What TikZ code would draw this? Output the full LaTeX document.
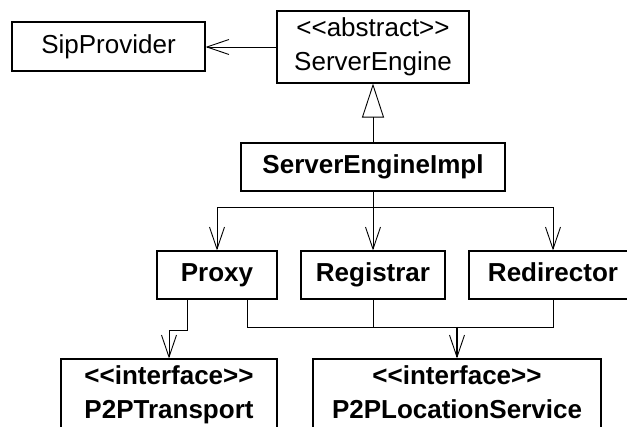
\documentclass[tikz,border=0pt]{standalone}
\usepackage{fontspec}
\setmainfont{Liberation Sans}[Ligatures=TeXOff]
\usetikzlibrary{arrows.meta}
\newcommand{\lstrut}{\vphantom{Pg}}
\tikzset{
  cls/.style={draw, line width=1.1pt, inner sep=0pt, align=center,
    font=\fontsize{26}{34}\selectfont},
  bcls/.style={cls, font=\fontsize{26}{34}\selectfont\bfseries},
  assoc/.style={line width=0.9pt, -{Straight Barb[length=22pt,width=15pt,line width=0.9pt]}},
  link/.style={line width=0.9pt},
  inherit/.style={line width=0.9pt, -{Triangle[open,length=34pt,width=22pt,line width=0.9pt]}}
}
\begin{document}
\begin{tikzpicture}[x=1pt,y=1pt]
\useasboundingbox (0,0) rectangle (627,-427);
\clip (0,0) rectangle (627,-427);

% classes
\node[cls, minimum width=193pt, minimum height=49pt] (sip) at (108.5,-46.5) {SipProvider\lstrut};
\node[cls, minimum width=192pt, minimum height=72pt] (se) at (373,-47) {\lstrut<<abstract>>\\ServerEngine\lstrut};
\node[bcls, minimum width=264pt, minimum height=48pt] (sei) at (373,-167) {ServerEngineImpl\lstrut};
\node[bcls, minimum width=120pt, minimum height=48pt] (proxy) at (217,-275) {Proxy\lstrut};
\node[bcls, minimum width=144pt, minimum height=48pt] (reg) at (373,-275) {Registrar\lstrut};
\node[bcls, minimum width=168pt, minimum height=48pt] (redir) at (553,-275) {Redirector\lstrut};
\node[bcls, minimum width=216pt, minimum height=72pt] (p2pt) at (169,-395) {\lstrut<<interface>>\\P2PTransport\lstrut};
\node[bcls, minimum width=288pt, minimum height=72pt] (p2pl) at (457,-395) {\lstrut<<interface>>\\P2PLocationService\lstrut};

% junction points
\coordinate (j1) at (373,-207);
\coordinate (j2) at (457,-327);

% associations and generalisation
\draw[assoc] (se.west) -- (sip.east |- se.west);
\draw[inherit] (sei.north) -- (se.south);
\draw[link] (sei.south) -- (j1);
\draw[assoc] (j1) -| (proxy.north);
\draw[assoc] (j1) -- (reg.north);
\draw[assoc] (j1) -| (redir.north);

\draw[assoc] ([xshift=-30pt]proxy.south) -- ++(0,-31) -| (p2pt.north);
\draw[link] ([xshift=30pt]proxy.south) |- (j2);
\draw[link] (redir.south) |- (j2);
\draw[link] (reg.south) -- (reg.south |- j2);
\draw[assoc, line width=1.4pt] (j2) -- (p2pl.north);
\end{tikzpicture}
\end{document}
